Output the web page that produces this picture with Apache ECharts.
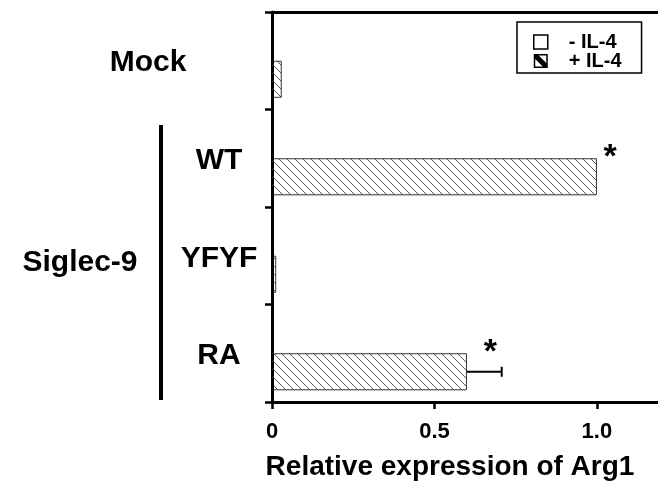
<!DOCTYPE html>
<html><head><meta charset="utf-8">
<script src="https://cdn.jsdelivr.net/npm/echarts@6/dist/echarts.min.js"></script>
<style>html,body{margin:0;padding:0;background:#fff}#c{width:658px;height:488px}</style>
</head><body><div id="c"></div>
<script>
// ---- data ----
const categories = ['Mock', 'WT', 'YFYF', 'RA'];
const minusIL4 = [0, 0, 0, 0];
const plusIL4 = [0.03, 1.0, 0.013, 0.6];
const plusIL4Err = [0, 0.003, 0, 0.107];
const significance = ['', '*', '', '*'];
const xTicks = [0, 0.5, 1.0];
const xTickLabels = ['0', '0.5', '1.0'];
const groupLabel = 'Siglec-9';
const xAxisTitle = 'Relative expression of Arg1';
const seriesNames = ['- IL-4', '+ IL-4'];

const FONT = "'Liberation Sans', Arial, Helvetica, sans-serif";
const CAT_GAP = 0.24;

// hatch pattern
const pat = document.createElement('canvas');
pat.width = 8; pat.height = 8;
(function () {
  const g = pat.getContext('2d');
  g.fillStyle = '#fff'; g.fillRect(0, 0, 8, 8);
  g.strokeStyle = '#444'; g.lineWidth = 0.9;
  for (let k = -1; k <= 1; k++) {
    g.beginPath(); g.moveTo(-1 + k * 8, -1); g.lineTo(9 + k * 8, 9); g.stroke();
  }
})();

const chart = echarts.init(document.getElementById('c'), null, { renderer: 'canvas' });
const hatchIcon = 'path://M0 0L14 0L14 14L0 14Z M1.5 1.5L1.5 12.5L12.5 12.5L12.5 1.5Z M0 0L3.5 0L14 10.5L14 14L10.5 14L0 3.5Z';

chart.setOption({
  animation: false,
  backgroundColor: '#fff',
  textStyle: { fontFamily: FONT },
  grid: { left: 272, top: 12, right: 0, bottom: 86, containLabel: false },
  legend: {
    orient: 'vertical', left: 517, top: 22,
    padding: [10, 20, 2, 16], itemGap: -1, itemWidth: 14, itemHeight: 14,
    borderColor: '#000', borderWidth: 1.5,
    textStyle: { fontFamily: FONT, fontWeight: 'bold', fontSize: 20, color: '#000', lineHeight: 14, padding: [0, 0, 0, 16] },
    data: [
      { name: seriesNames[0], icon: 'rect', itemStyle: { color: '#fff', borderColor: '#000', borderWidth: 1.5, decal: 'none' } },
      { name: seriesNames[1], icon: hatchIcon, itemStyle: { color: '#000', borderWidth: 0, decal: 'none' } }
    ]
  },
  xAxis: [{
    type: 'value', min: 0, max: 1.188, interval: 0.5, position: 'bottom', z: 10,
    axisLine: { show: true, lineStyle: { color: '#000', width: 3 } },
    axisTick: { show: true, customValues: xTicks, length: 7, lineStyle: { color: '#000', width: 2.5 } },
    axisLabel: {
      customValues: xTicks, margin: 19,
      formatter: v => xTickLabels[xTicks.indexOf(v)] ?? '',
      fontFamily: FONT, fontWeight: 'bold', fontSize: 22, color: '#000'
    },
    splitLine: { show: false },
    name: xAxisTitle, nameLocation: 'middle', nameGap: 51,
    nameTextStyle: { fontFamily: FONT, fontWeight: 'bold', fontSize: 28, color: '#000', padding: [0, 30, 0, 0] }
  }, {
    type: 'value', min: 0, max: 1.188, position: 'top', z: 10,
    axisLine: { show: true, lineStyle: { color: '#000', width: 3 } },
    axisTick: { show: false }, axisLabel: { show: false }, splitLine: { show: false }
  }],
  yAxis: {
    type: 'category', data: categories, inverse: true, z: 10,
    axisLine: { show: true, lineStyle: { color: '#000', width: 3 } },
    axisTick: { show: true, length: 7, lineStyle: { color: '#000', width: 2.5 } },
    axisLabel: {
      align: 'center', margin: 53,
      formatter: v => v === categories[0] ? '{m|' + v + '}' : '{c|' + v + '}',
      rich: {
        m: { fontFamily: FONT, fontWeight: 'bold', fontSize: 30, color: '#000', padding: [3, 142, 0, 0] },
        c: { fontFamily: FONT, fontWeight: 'bold', fontSize: 30, color: '#000', padding: [5, 0, 0, 0] }
      }
    },
    splitLine: { show: false }
  },
  series: [{
    name: seriesNames[0], type: 'bar', data: minusIL4,
    barGap: '0%', barCategoryGap: (CAT_GAP * 100) + '%',
    itemStyle: { color: '#fff', borderColor: '#333', borderWidth: 1 }
  }, {
    name: seriesNames[1], type: 'bar', data: plusIL4,
    barGap: '0%', barCategoryGap: (CAT_GAP * 100) + '%',
    itemStyle: { color: { image: pat, repeat: 'repeat' }, borderColor: '#333', borderWidth: 1 }
  }, {
    name: 'err', type: 'custom', z: 5,
    encode: { x: 1, y: 0 },
    data: categories.map((c, i) => [i, plusIL4[i], plusIL4Err[i]]),
    renderItem: function (params, api) {
      const cat = api.value(0), v = api.value(1), e = api.value(2);
      const band = api.size([0, 1])[1];
      const barW = band * (1 - CAT_GAP) / 2;
      const p0 = api.coord([v, cat]);
      const p1 = api.coord([v + e, cat]);
      const y = p0[1] + barW / 2;
      const children = [];
      if (e > 0.01) {
        children.push({ type: 'line', shape: { x1: p0[0], y1: y, x2: p1[0], y2: y }, style: { stroke: '#000', lineWidth: 2 } });
        children.push({ type: 'line', shape: { x1: p1[0], y1: y - 5, x2: p1[0], y2: y + 5 }, style: { stroke: '#000', lineWidth: 2 } });
      }
      const s = significance[params.dataIndex];
      if (s) {
        children.push({ type: 'text', x: p0[0] + 13 + (p1[0] - p0[0]) * 0.3, y: y - barW / 2 - 1,
          style: { text: s, font: 'bold 34px ' + FONT, fill: '#000', textAlign: 'center', textVerticalAlign: 'middle' } });
      }
      return { type: 'group', children: children };
    }
  }],
  graphic: [
    { type: 'text', x: 80, y: 263, style: { text: groupLabel, font: 'bold 30px ' + FONT, fill: '#000', textAlign: 'center', textVerticalAlign: 'middle' } },
    { type: 'line', shape: { x1: 161, y1: 125, x2: 161, y2: 400 }, style: { stroke: '#000', lineWidth: 4 } }
  ]
});
</script>
</body></html>
